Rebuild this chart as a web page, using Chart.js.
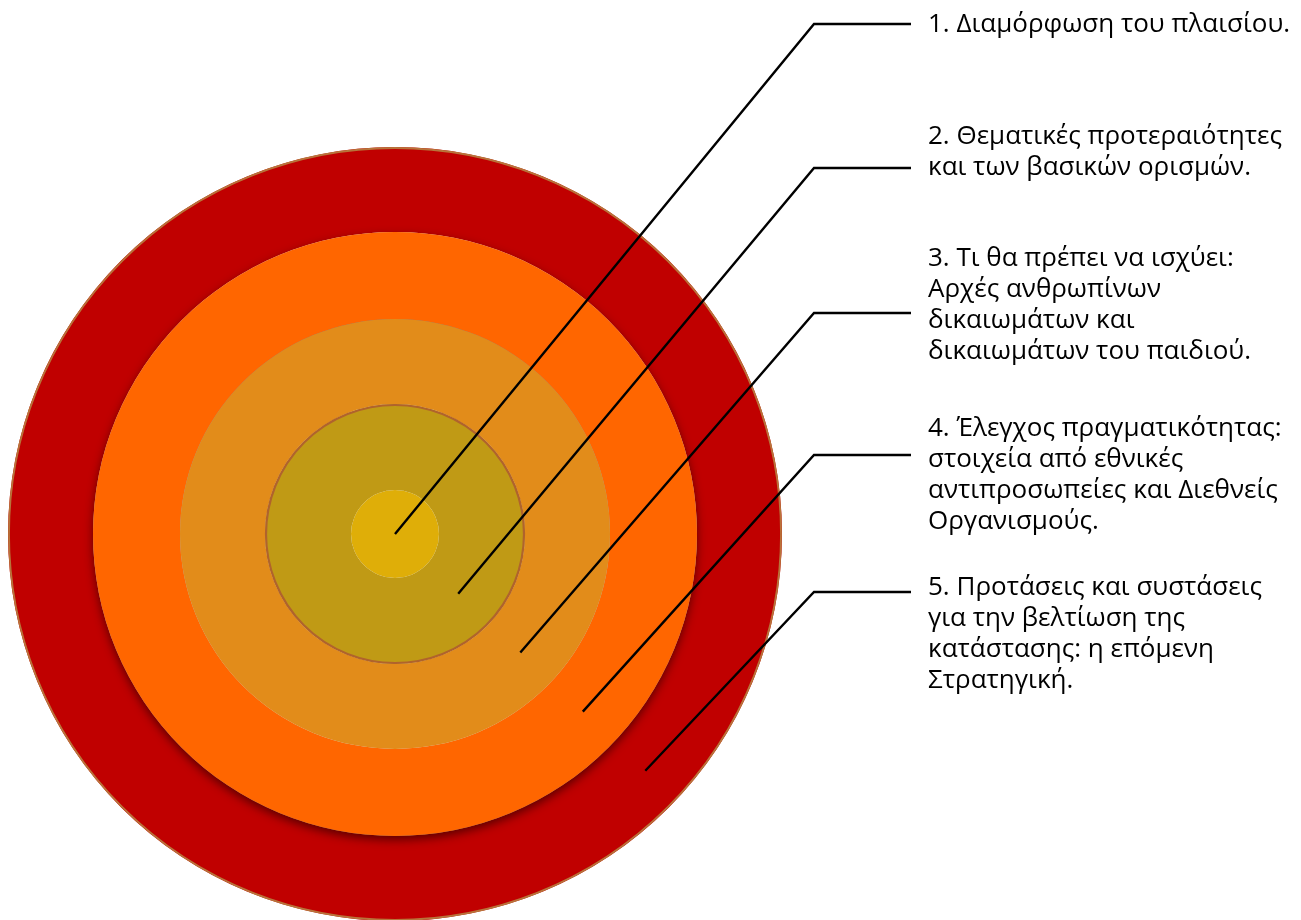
<!DOCTYPE html>
<html lang="el">
  <head>
    <meta charset="UTF-8" />
    <meta name="viewport" content="width=device-width, initial-scale=1.0" />
    <title>Στάδια</title>
    <script src="https://cdn.jsdelivr.net/npm/chart.js"></script>
    <style>
      html,
      body {
        margin: 0;
        padding: 0;
        background: #ffffff;
      }
      #wrap {
        width: 1301px;
        height: 920px;
        position: relative;
      }
    </style>
  </head>
  <body>
    <div id="wrap">
      <canvas id="target"></canvas>
    </div>

    <script>
      // stages, from the centre of the target outwards
      const stageTexts = [
        ["1. Διαμόρφωση του πλαισίου."],
        ["2. Θεματικές προτεραιότητες", "και των βασικών ορισμών."],
        [
          "3. Τι θα πρέπει να ισχύει:",
          "Αρχές ανθρωπίνων",
          "δικαιωμάτων και",
          "δικαιωμάτων του παιδιού.",
        ],
        [
          "4. Έλεγχος πραγματικότητας:",
          "στοιχεία από εθνικές",
          "αντιπροσωπείες και Διεθνείς",
          "Οργανισμούς.",
        ],
        [
          "5. Προτάσεις και συστάσεις",
          "για την βελτίωση της",
          "κατάστασης: η επόμενη",
          "Στρατηγική.",
        ],
      ];
      // every stage fills its whole ring
      const stageValues = [1, 1, 1, 1, 1];

      // look of the rings (centre outwards)
      const ringColors = ["#DFAE08", "#C09A15", "#E28C1A", "#FF6600", "#C00000"];
      const ringWeights = [44, 86, 85, 87, 85]; // ring thickness
      const ringOutline = [null, "#B0632C", null, null, "#B8743A"];

      // callout layout
      const calloutAngle = (43.4 * Math.PI) / 180;
      const elbowX = 814;
      const tickEndX = 911;
      const textX = 928;
      const elbowY = [24, 168, 313, 455, 592];
      const firstLineY = [25, 137, 259, 429, 588];
      const lineGap = 31;
      const labelFont = '26px "Open Sans", "Noto Sans", sans-serif';

      // doughnut datasets go outermost first
      const datasets = stageValues
        .map((v, i) => ({
          label: stageTexts[i][0],
          data: [v],
          backgroundColor: ringColors[i],
          borderWidth: 0,
          weight: ringWeights[i],
          clip: false,
          // red ring first, then the orange one (it casts a shadow), then the rest
          order: i === 4 ? 2 : i === 3 ? 1 : 0,
        }))
        .reverse();

      const ringOf = (chart, stage) =>
        chart.getDatasetMeta(stageValues.length - 1 - stage).data[0];

      const targetDecor = {
        id: "targetDecor",
        beforeDatasetDraw(chart, args) {
          if (args.index !== 1) return;
          const ctx = chart.ctx;
          ctx.save();
          ctx.shadowColor = "rgba(40, 0, 0, 0.65)";
          ctx.shadowBlur = 10;
          ctx.shadowOffsetY = 4;
        },
        afterDatasetDraw(chart, args) {
          if (args.index === 1) chart.ctx.restore();
        },
        afterDatasetsDraw(chart) {
          const ctx = chart.ctx;
          ctx.save();

          // thin outlines on some rings
          ringOutline.forEach((col, s) => {
            if (!col) return;
            const arc = ringOf(chart, s);
            ctx.beginPath();
            ctx.arc(arc.x, arc.y, arc.outerRadius - 1, 0, Math.PI * 2);
            ctx.strokeStyle = col;
            ctx.lineWidth = s === 4 ? 1.8 : 2.2;
            ctx.stroke();
          });

          // callout lines and texts
          ctx.font = labelFont;
          ctx.textAlign = "left";
          ctx.textBaseline = "middle";
          stageTexts.forEach((lines, s) => {
            const arc = ringOf(chart, s);
            const r = arc.innerRadius === 0 ? 0 : (arc.innerRadius + arc.outerRadius) / 2;
            const ax = arc.x + r * Math.cos(calloutAngle);
            const ay = arc.y + r * Math.sin(calloutAngle);

            ctx.beginPath();
            ctx.moveTo(ax, ay);
            ctx.lineTo(elbowX, elbowY[s]);
            ctx.lineTo(tickEndX, elbowY[s]);
            ctx.strokeStyle = "#000000";
            ctx.lineWidth = 2.4;
            ctx.lineJoin = "miter";
            ctx.stroke();

            ctx.fillStyle = "#000000";
            lines.forEach((t, k) => {
              ctx.fillText(t, textX, firstLineY[s] + k * lineGap);
            });
          });

          ctx.restore();
        },
      };

      const chart = new Chart(document.getElementById("target"), {
        type: "doughnut",
        data: {
          labels: ["Στάδιο"],
          datasets: datasets,
        },
        options: {
          responsive: true,
          maintainAspectRatio: false,
          animation: false,
          events: [],
          cutout: 0,
          radius: 387,
          layout: {
            padding: { left: 8, top: 148, right: 519, bottom: 0 },
          },
          plugins: {
            legend: { display: false },
            tooltip: { enabled: false },
          },
        },
        plugins: [targetDecor],
      });
    </script>
  </body>
</html>
